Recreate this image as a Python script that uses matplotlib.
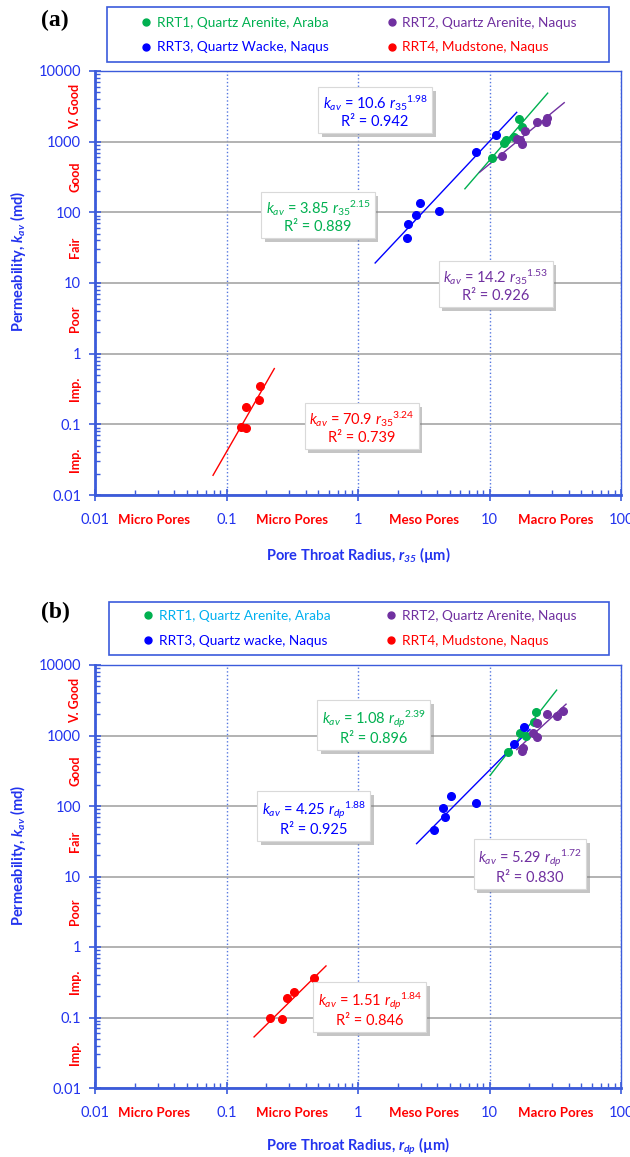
import matplotlib
matplotlib.use('Agg')
import matplotlib.pyplot as plt
import matplotlib.patheffects as pe
from matplotlib.lines import Line2D
from matplotlib.patches import Rectangle
from matplotlib.ticker import LogLocator, NullFormatter
import numpy as np

plt.rcParams['font.family'] = ['Lato', 'DejaVu Sans']
plt.rcParams['mathtext.fontset'] = 'custom'
plt.rcParams['mathtext.rm'] = 'Lato'
plt.rcParams['mathtext.it'] = 'Lato:italic'
plt.rcParams['mathtext.bf'] = 'Lato:bold'
plt.rcParams['mathtext.bfit'] = 'Lato:bold:italic'


# ---- datos panel (a): r35 ----
rrt1_r35 = [16.9, 17.6, 15.4, 13.3, 12.8, 10.4]
rrt1_k_a = [2070, 1590, 1180, 1060, 950, 580]
rrt2_r35 = [22.9, 27.2, 26.7, 18.7, 16.1, 17.0, 17.6, 12.4]
rrt2_k_a = [1920, 2140, 1880, 1420, 1090, 1060, 920, 630]
rrt3_r35 = [11.2, 7.9, 2.96, 4.15, 2.78, 2.41, 2.37]
rrt3_k_a = [1260, 710, 134, 105, 91, 68, 44]
rrt4_r35 = [0.18, 0.177, 0.14, 0.129, 0.14]
rrt4_k_a = [0.345, 0.219, 0.176, 0.093, 0.088]

# ajustes k = c * r^e  (RRT1, RRT2, RRT3, RRT4)
coef_a = [3.85, 14.2, 10.6, 70.9]
expo_a = [2.15, 1.53, 1.98, 3.24]
r2_a = [0.889, 0.926, 0.942, 0.739]
xfit_a = [(6.5, 27.7), (8.4, 37.0), (1.35, 16.1), (0.079, 0.231)]

# ---- datos panel (b): rdp ----
rrt1_rdp = [22.4, 21.8, 17.1, 19.0, 13.9]
rrt1_k_b = [2130, 1570, 1100, 984, 589]
rrt2_rdp = [27.2, 32.7, 36.0, 22.9, 21.5, 22.9, 17.9, 17.6]
rrt2_k_b = [1990, 1890, 2230, 1490, 1074, 960, 658, 608]
rrt3_rdp = [18.4, 15.3, 5.1, 4.45, 7.85, 4.59, 3.8]
rrt3_k_b = [1306, 750, 140, 95, 111, 70, 46]
rrt4_rdp = [0.466, 0.326, 0.287, 0.214, 0.266]
rrt4_k_b = [0.367, 0.232, 0.187, 0.099, 0.094]

coef_b = [1.08, 5.29, 4.25, 1.51]
expo_b = [2.39, 1.72, 1.88, 1.84]
r2_b = [0.896, 0.830, 0.925, 0.846]
xfit_b = [(10.1, 32.4), (16.1, 38.2), (2.79, 20.3), (0.162, 0.571)]

x_ticks = [0.01, 0.1, 1, 10, 100]
x_tick_labels = ['0.01', '0.1', '1', '10', '100']
y_ticks = [0.01, 0.1, 1, 10, 100, 1000, 10000]
y_tick_labels = ['0.01', '0.1', '1', '10', '100', '1000', '10000']
quality_labels = ['Imp.', 'Imp.', 'Poor', 'Fair', 'Good', 'V. Good']
pore_labels = ['Micro Pores', 'Micro Pores', 'Meso Pores', 'Macro Pores']

legend_a = ['RRT1, Quartz Arenite, Araba', 'RRT2, Quartz Arenite, Naqus',
            'RRT3, Quartz Wacke, Naqus', 'RRT4, Mudstone, Naqus']
legend_b = ['RRT1, Quartz Arenite, Araba', 'RRT2, Quartz Arenite, Naqus',
            'RRT3, Quartz wacke, Naqus', 'RRT4, Mudstone, Naqus']

colores = ['#00b050', '#7030a0', '#0000ff', '#ff0000']
azul = '#2233ee'
eje = '#3b5bdb'
rojo = '#ff0000'

W, H = 630, 1157
fig = plt.figure(figsize=(W / 100, H / 100), dpi=100)


def panel(ax, xs, ks, coefs, expos, r2s, xfits, sub, ann_pos, xlab):
    ax.set_xscale('log')
    ax.set_yscale('log')
    ax.set_xlim(0.01, 100)
    ax.set_ylim(0.01, 10000)

    for x, k, c in zip(xs, ks, colores):
        ax.plot(x, k, 'o', color=c, ms=5.5, ls='none', zorder=4)

    for c, e, r2, (x0, x1), col, (tx, ty) in zip(coefs, expos, r2s, xfits, colores, ann_pos):
        xx = np.geomspace(x0, x1, 50)
        ax.plot(xx, c * xx ** e, color=col, lw=1.0, zorder=3)
        # superindice despues del subindice, como en Excel
        txt = (r'$k_{av}$ = ' + f'{c:.3g} ' + r'$r_{' + sub + r'}{}^{\mathrm{' + f'{e:.2f}' + r'}}$'
               + '\n' + f'R² = {r2:.3f}')
        t = ax.text(tx, ty, txt, color=col, fontsize=10.5, ha='center', va='center',
                    multialignment='center', zorder=6,
                    bbox=dict(boxstyle='square,pad=0.3', fc='white', ec='#d9d9d9', lw=0.8))
        t.get_bbox_patch().set_path_effects(
            [pe.withSimplePatchShadow(offset=(2.5, -2.5), shadow_rgbFace='#808080', alpha=0.45)])

    ax.set_xticks(x_ticks)
    ax.set_xticklabels(x_tick_labels)
    ax.set_yticks(y_ticks)
    ax.set_yticklabels(y_tick_labels)
    ax.xaxis.set_minor_locator(LogLocator(base=10, subs=np.arange(2, 10), numticks=50))
    ax.yaxis.set_minor_locator(LogLocator(base=10, subs=np.arange(2, 10), numticks=50))
    ax.xaxis.set_minor_formatter(NullFormatter())
    ax.yaxis.set_minor_formatter(NullFormatter())
    ax.tick_params(which='major', direction='inout', length=8, width=1.2,
                   color=eje, labelcolor=azul, labelsize=10.5)
    ax.tick_params(which='minor', direction='in', length=3.5, width=1, color=eje)
    ax.tick_params(axis='x', which='major', pad=9)
    ax.tick_params(axis='y', which='major', pad=6)

    ax.set_axisbelow(True)
    ax.yaxis.grid(True, which='major', color='#a6a6a6', lw=1.2)
    ax.xaxis.grid(True, which='major', color='#5577e0', ls=':', lw=1.0)

    for s in ['left', 'bottom']:
        ax.spines[s].set_color(eje)
        ax.spines[s].set_linewidth(2)
    for s in ['top', 'right']:
        ax.spines[s].set_color(eje)
        ax.spines[s].set_linewidth(1)

    # calidad de permeabilidad
    for i, lab in enumerate(quality_labels):
        ax.text(-0.038, 10 ** (-1.5 + i), lab, transform=ax.get_yaxis_transform(),
                rotation=90, color=rojo, fontsize=9, fontweight='bold',
                ha='center', va='center', clip_on=False)
    # tipos de poro
    for xp, lab in zip([10 ** -1.55, 10 ** -0.5, 10 ** 0.5, 10 ** 1.5], pore_labels):
        ax.text(xp, -0.059, lab, transform=ax.get_xaxis_transform(), color=rojo,
                fontsize=9.5, fontweight='bold', ha='center', va='center', clip_on=False)

    ax.set_xlabel(xlab, color=azul, fontsize=10.5, fontweight='bold')
    ax.xaxis.label.set_va('center')
    ax.xaxis.set_label_coords(0.5, -0.141)
    ax.set_ylabel(r'Permeability, $\mathbfit{k}_{\mathbfit{av}}$ (md)', color=azul,
                  fontsize=10.5, fontweight='bold')
    ax.yaxis.label.set_va('center')
    ax.yaxis.set_label_coords(-0.146, 0.55)


def leyenda(labels, text_cols, x0, x1, yc, box):
    orden = [0, 2, 1, 3]
    handles = [Line2D([], [], marker='o', ls='none', color=colores[i], ms=5) for i in orden]
    fig.legend(handles, [labels[i] for i in orden], ncol=2, mode='expand', loc='center',
               bbox_to_anchor=(x0 / W, 1 - (yc + 13) / H, (x1 - x0) / W, 26 / H),
               bbox_transform=fig.transFigure, frameon=False, borderpad=0, borderaxespad=0,
               handlelength=0.6, handletextpad=0.5, labelspacing=0.95, fontsize=9.8,
               labelcolor=[text_cols[i] for i in orden])
    bx0, by0, bx1, by1 = box
    fig.patches.append(Rectangle((bx0 / W, 1 - by1 / H), (bx1 - bx0) / W, (by1 - by0) / H,
                                 transform=fig.transFigure, fill=False, ec=eje, lw=1.2))


ax_a = fig.add_axes([95 / W, 1 - 495 / H, 526 / W, 424 / H])
panel(ax_a,
      [rrt1_r35, rrt2_r35, rrt3_r35, rrt4_r35],
      [rrt1_k_a, rrt2_k_a, rrt3_k_a, rrt4_k_a],
      coef_a, expo_a, r2_a, xfit_a, r'\mathit{35}',
      [(0.497, 88.8), (11.2, 9.38), (1.35, 2716), (1.07, 0.0918)],
      r'Pore Throat Radius, $\mathbfit{r}_{\mathbfit{35}}$ (µm)')

ax_b = fig.add_axes([95 / W, 1 - 1088 / H, 526 / W, 423 / H])
panel(ax_b,
      [rrt1_rdp, rrt2_rdp, rrt3_rdp, rrt4_rdp],
      [rrt1_k_b, rrt2_k_b, rrt3_k_b, rrt4_k_b],
      coef_b, expo_b, r2_b, xfit_b, 'dp',
      [(1.32, 1321), (20.3, 14.1), (0.462, 67.6), (1.23, 0.132)],
      r'Pore Throat Radius, $\mathbfit{r}_{\mathbfit{dp}}$ (µm)')
ax_b.xaxis.set_label_coords(0.5, -0.139)

leyenda(legend_a, colores, 142, 577, 35, (107, 7, 609, 62))
leyenda(legend_b, ['#00b0f0'] + colores[1:], 144, 576, 628.5, (109, 602, 609, 655))

fig.text(55 / W, 1 - 20 / H, '(a)', family='Liberation Serif', fontweight='bold',
         fontsize=17, ha='center', va='center')
fig.text(55 / W, 1 - 612 / H, '(b)', family='Liberation Serif', fontweight='bold',
         fontsize=17, ha='center', va='center')

fig.savefig('out.png', dpi=100)
